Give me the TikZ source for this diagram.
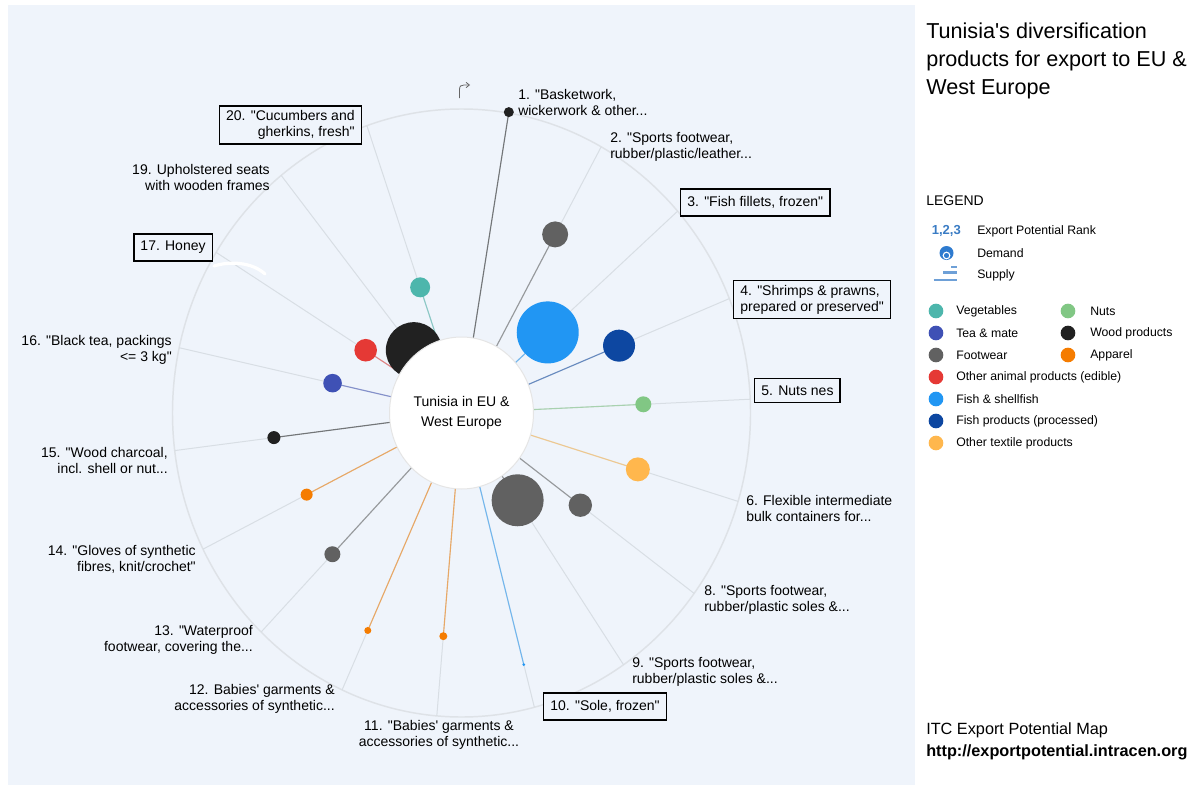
\documentclass[tikz,border=0pt]{standalone}
\usepackage{fontspec}
\setmainfont{Liberation Sans}[Ligatures=TeXOff]
\usetikzlibrary{shapes.geometric,arrows.meta}
\definecolor{panel}{RGB}{239,244,251}
\definecolor{ringcol}{RGB}{222,226,231}
\definecolor{spokecol}{RGB}{216,222,228}
\definecolor{vegcol}{RGB}{77,182,172}
\definecolor{teacol}{RGB}{63,81,181}
\definecolor{shoecol}{RGB}{97,97,97}
\definecolor{animalcol}{RGB}{229,57,53}
\definecolor{fishcol}{RGB}{33,150,243}
\definecolor{fishproccol}{RGB}{13,71,161}
\definecolor{textilecol}{RGB}{255,183,77}
\definecolor{nutcol}{RGB}{129,199,132}
\definecolor{woodcol}{RGB}{33,33,33}
\definecolor{apparelcol}{RGB}{245,124,0}
\definecolor{rankblue}{RGB}{58,124,196}
\definecolor{demandcol}{RGB}{46,123,207}
\definecolor{supplycol}{RGB}{110,160,215}

\def\prodlist{1/0/305/5/woodcol, 2/1/204/13/shoecol, 3/2/121.4/31/fishcol,
  4/3/179/16/fishproccol, 5/4/191.6/8/nutcol, 6/5/194/12/textilecol,
  8/6/155.4/11.7/shoecol, 9/7/105.4/26/shoecol, 10/8/260/1.5/fishcol,
  11/9/224/4/apparelcol, 12/10/238.8/3.5/apparelcol, 13/11/196/8/shoecol,
  14/12/182.3/6/apparelcol, 15/13/199/6.5/woodcol, 16/14/139/9.3/teacol,
  17/15/118.8/11.3/animalcol, 19/16/80.4/28/woodcol, 20/17/133/10/vegcol}

\begin{document}
\begin{tikzpicture}[x=0.75pt,y=0.75pt,yscale=-1,xscale=1,
  txt/.style={inner sep=0pt,font=\fontsize{10.5}{12}\selectfont},
  boxtxt/.style={txt,draw=black,line width=1.1pt,fill=panel,inner xsep=5pt,inner ysep=#1},
  boxtxt/.default=5.5pt,
  bubble/.style={circle,inner sep=0pt,fill=#1},
  spoke/.style={draw=spokecol,line width=0.75pt},
  feeder/.style={draw=#1,draw opacity=0.55,line width=0.85pt},
  swatch/.style={circle,inner sep=0pt,minimum size=11pt,fill=#1},
  keytxt/.style={anchor=west,inner sep=0pt,font=\fontsize{9.2}{11}\selectfont}]
\useasboundingbox (0,0) rectangle (1197,785);
\fill[panel] (8,5) rectangle (915,785);

\coordinate (o) at (461.5,413);
\draw[ringcol,line width=1.1pt] (o) ellipse [x radius=289, y radius=304];

\foreach \num/\idx/\dist/\rad/\col in \prodlist {
  \pgfmathsetmacro\ang{9.4+19.5*\idx-90}
  \pgfmathsetmacro\distx{0.95*\dist}
  \path (o) ++(\ang:289 and 304) coordinate (c\num);
  \path (o) ++(\ang:{\distx} and {\dist}) coordinate (p\num);
  \draw[spoke] (o) -- (c\num);
  \draw[feeder=\col] (o) -- (p\num);
}
\foreach \num/\idx/\dist/\rad/\col in \prodlist {
  \node[bubble=\col,minimum size={1.5pt*\rad}] (d\num) at (p\num) {};
}

\node[ellipse,fill=white,draw=black!10,line width=0.75pt,inner sep=0pt,
  minimum width=108pt,minimum height=114pt,align=center,
  font=\fontsize{10.5}{15}\selectfont] (hub) at (o) {Tunisia in EU \&\\West Europe};

\draw[black!60,line width=0.6pt,-{Straight Barb[length=2.5pt,width=4pt]}]
  (459.5,98) -- (459.5,89.5) .. controls (459.5,86) and (461,85) .. (464,85) -- (470,85);

\draw[white,line width=2.4pt,line cap=round]
  (214,266) .. controls (230,261) and (252,262) .. (265,274);

\node[txt,anchor=west,align=left] (l1) at (518,102) {1. "Basketwork,\\wickerwork \& other...};
\node[txt,anchor=west,align=left] (l2) at (610,147) {2. "Sports footwear,\\rubber/plastic/leather...};
\node[boxtxt,anchor=west] (l3) at (680,202.5) {3. "Fish fillets, frozen"};
\node[boxtxt=3.5pt,anchor=west,align=left] (l4) at (733,299.5) {4. "Shrimps \& prawns,\\prepared or preserved"};
\node[boxtxt,anchor=west] (l5) at (754,390.5) {5. Nuts nes};
\node[txt,anchor=west,align=left] (l6) at (746,508) {6. Flexible intermediate\\bulk containers for...};
\node[txt,anchor=west,align=left] (l8) at (704,600) {8. "Sports footwear,\\rubber/plastic soles \&...};
\node[txt,anchor=west,align=left] (l9) at (632,672) {9. "Sports footwear,\\rubber/plastic soles \&...};
\node[boxtxt,anchor=west] (l10) at (543,706.5) {10. "Sole, frozen"};
\node[txt,align=center] (l11) at (439,735) {11. "Babies' garments \&\\accessories of synthetic...};
\node[txt,anchor=east,align=right] (l12) at (335,699) {12. Babies' garments \&\\accessories of synthetic...};
\node[txt,anchor=east,align=right] (l13) at (253,640) {13. "Waterproof\\footwear, covering the...};
\node[txt,anchor=east,align=right] (l14) at (196,559) {14. "Gloves of synthetic\\fibres, knit/crochet"};
\node[txt,anchor=east,align=right] (l15) at (168,460) {15. "Wood charcoal,\\incl. shell or nut...};
\node[txt,anchor=east,align=right] (l16) at (172,350) {16. "Black tea, packings\\<= 3 kg"};
\node[boxtxt,anchor=east] (l17) at (213,247.5) {17. Honey};
\node[txt,anchor=east,align=right] (l19) at (270,177) {19. Upholstered seats\\with wooden frames};
\node[boxtxt=3.5pt,anchor=east,align=right] (l20) at (362,125) {20. "Cucumbers and\\gherkins, fresh"};

\node[anchor=west,inner sep=0pt,align=left,font=\fontsize{16.2}{21}\selectfont] (title) at (926,61)
  {Tunisia's diversification\\products for export to EU \&\\West Europe};

\node[anchor=west,inner sep=0pt,font=\fontsize{10.5}{12}\selectfont] (legend) at (926,201) {LEGEND};
\node[keytxt,text=rankblue,font=\bfseries\fontsize{9.8}{11}\selectfont] (rank) at (931.5,231) {1,2,3};
\node[keytxt] (rankt) at (977,231) {Export Potential Rank};
\fill[demandcol] (946.5,253) circle (7);
\draw[white,line width=0.8pt] (946.5,255.5) circle (3.3);
\fill[demandcol] (946.5,255.5) circle (1.6);
\node[keytxt] (demand) at (977,253) {Demand};
\draw[supplycol,line width=1.6pt] (951,267) -- (957,267) (943,272.5) -- (957,272.5) (933.5,280) -- (957,280);
\node[keytxt] (supply) at (977,275) {Supply};

\foreach \yy/\col/\name [count=\n] in {311/vegcol/Vegetables, 333/teacol/Tea \& mate,
  355/shoecol/Footwear, 377/animalcol/Other animal products (edible),
  399/fishcol/Fish \& shellfish, 421/fishproccol/Fish products (processed),
  443/textilecol/Other textile products} {
  \node[swatch=\col] (kl\n) at (936,\yy) {};
  \node[keytxt] (tl\n) at (956,\yy) {\name};
}
\foreach \yy/\col/\name [count=\n] in {311/nutcol/Nuts, 333/woodcol/Wood products, 355/apparelcol/Apparel} {
  \node[swatch=\col] (kr\n) at (1068,\yy) {};
  \node[keytxt] (tr\n) at (1090,\yy) {\name};
}

\node[anchor=west,inner sep=0pt,align=left,font=\fontsize{12.2}{16.5}\selectfont] (itc) at (926,741)
  {ITC Export Potential Map\\\textbf{http://exportpotential.intracen.org}};
\end{tikzpicture}
\end{document}
